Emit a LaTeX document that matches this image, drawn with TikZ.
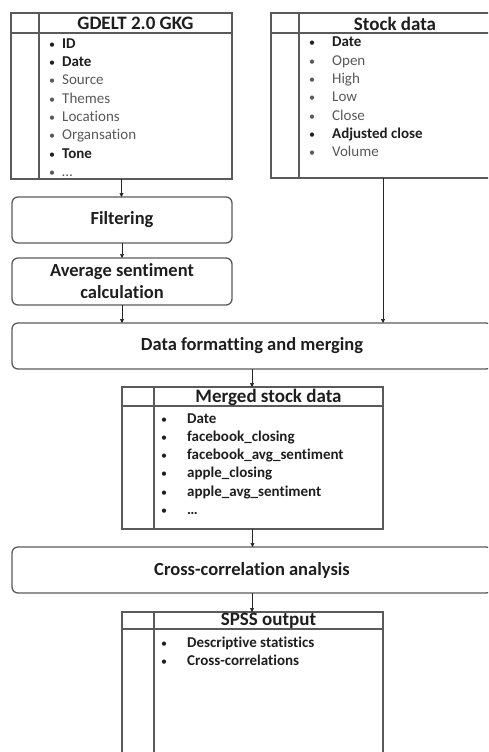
\documentclass[tikz,border=0pt]{standalone}
\usepackage{fontspec}
\setmainfont{Carlito}[Ligatures = {NoCommon, NoContextual}, RawFeature = {-liga;-clig;-calt}]
\usetikzlibrary{arrows.meta,positioning}

\definecolor{boxline}{HTML}{5A5A5A}
\definecolor{softtext}{HTML}{595959}
\definecolor{hardtext}{HTML}{1E1E1E}

\tikzset{
  box/.style = {draw = boxline, line width = 1.3pt, outer sep = 0pt, inner sep = 0pt},
  rule/.style = {draw = boxline, line width = 1.3pt},
  stepbox/.style = {box, rounded corners = 6pt, text = hardtext, font = \fontsize{18.5}{22}\selectfont\bfseries, align = center},
  title/.style = {inner sep = 0pt, text = hardtext, font = \fontsize{19}{22}\selectfont\bfseries},
  item/.style = {anchor = base west, inner sep = 0pt, text = softtext, font = \fontsize{15}{17}\selectfont},
  bitem/.style = {item, text = hardtext, font = \fontsize{15}{17}\selectfont\bfseries},
  flow/.style = {-{Triangle[length = 4pt, width = 4pt]}, line width = 0.6pt, black!85},
}
\newcommand{\itm}[2]{\makebox[#1][l]{\mdseries\fontsize{12}{14}\selectfont\textbullet}#2}

\begin{document}
\begin{tikzpicture}[x = 1pt, y = -1pt]
\useasboundingbox (0, 0) rectangle (488, 752);
\clip (0, 0) rectangle (488, 752);
%\draw[very thin, color = gray](0, 0) grid[step = 50] (488, 752);

% source tables
\node [box, minimum width = 221pt, minimum height = 166pt] (gdelt) at (121.5, 96) {};
\draw [rule] ([yshift = -20pt]gdelt.north west) -- ([yshift = -20pt]gdelt.north east);
\draw [rule] ([xshift = 28pt]gdelt.north west) -- ([xshift = 28pt]gdelt.south west);
\node [title] (gdelt-title) at (135.5, 23.5) {GDELT 2.0 GKG};
\node [bitem] (g-id) at (49, 48.3) {\itm{13pt}{ID}};
\node [bitem] (g-date) at (49, 66.6) {\itm{13pt}{Date}};
\node [item] (g-source) at (49, 84.9) {\itm{13pt}{Source}};
\node [item] (g-themes) at (49, 103.2) {\itm{13pt}{Themes}};
\node [item] (g-loc) at (49, 121.5) {\itm{13pt}{Locations}};
\node [item] (g-org) at (49, 139.8) {\itm{13pt}{Organsation}};
\node [bitem] (g-tone) at (49, 158.1) {\itm{13pt}{Tone}};
\node [item] (g-more) at (49, 176.4) {\itm{13pt}{\ldots}};

\node [box, minimum width = 220pt, minimum height = 165pt] (stock) at (381, 95.5) {};
\draw [rule] ([yshift = -20pt]stock.north west) -- ([yshift = -20pt]stock.north east);
\draw [rule] ([xshift = 28pt]stock.north west) -- ([xshift = 28pt]stock.south west);
\node [title] (stock-title) at (395, 23.5) {Stock data};
\node [bitem] (s-date) at (309, 47) {\itm{23pt}{Date}};
\node [item] (s-open) at (309, 65.3) {\itm{23pt}{Open}};
\node [item] (s-high) at (309, 83.6) {\itm{23pt}{High}};
\node [item] (s-low) at (309, 101.9) {\itm{23pt}{Low}};
\node [item] (s-close) at (309, 120.2) {\itm{23pt}{Close}};
\node [bitem] (s-adj) at (309, 138.5) {\itm{23pt}{Adjusted close}};
\node [item] (s-vol) at (309, 156.8) {\itm{23pt}{Volume}};

% processing steps
\node [stepbox, minimum width = 220pt, minimum height = 46pt] (filter) at (122, 220) {Filtering};
\node [stepbox, minimum width = 220pt, minimum height = 47pt] (avg) at (122, 281.5) {Average sentiment\\calculation};
\node [stepbox, minimum width = 480pt, minimum height = 46pt] (merge) at (252, 346) {Data formatting and merging};

\node [box, minimum width = 261pt, minimum height = 142pt] (merged) at (252.5, 458) {};
\draw [rule] ([yshift = -19pt]merged.north west) -- ([yshift = -19pt]merged.north east);
\draw [rule] ([xshift = 32pt]merged.north west) -- ([xshift = 32pt]merged.south west);
\node [title] (merged-title) at (268.5, 397) {Merged stock data};
\node [bitem] (m-date) at (161, 423) {\itm{26pt}{Date}};
\node [bitem] (m-fbc) at (161, 441.3) {\itm{26pt}{facebook\_closing}};
\node [bitem] (m-fbs) at (161, 459.6) {\itm{26pt}{facebook\_avg\_sentiment}};
\node [bitem] (m-apc) at (161, 477.9) {\itm{26pt}{apple\_closing}};
\node [bitem] (m-aps) at (161, 496.2) {\itm{26pt}{apple\_avg\_sentiment}};
\node [bitem] (m-more) at (161, 514.5) {\itm{26pt}{\ldots}};

\node [stepbox, minimum width = 480pt, minimum height = 46pt] (xcorr) at (252, 570) {Cross-correlation analysis};

\node [box, minimum width = 261pt, minimum height = 176pt] (spss) at (252.5, 700) {};
\draw [rule] ([yshift = -17pt]spss.north west) -- ([yshift = -17pt]spss.north east);
\draw [rule] ([xshift = 32pt]spss.north west) -- ([xshift = 32pt]spss.south west);
\node [title] (spss-title) at (268.5, 621) {SPSS output};
\node [bitem] (p-desc) at (161, 647) {\itm{26pt}{Descriptive statistics}};
\node [bitem] (p-xc) at (161, 665.3) {\itm{26pt}{Cross-correlations}};

% connectors
\draw [flow] (gdelt.south) -- (gdelt.south |- filter.north);
\draw [flow] (filter.south) -- (avg.north);
\draw [flow] (avg.south) -- (avg.south |- merge.north);
\draw [flow] ([xshift = 2pt]stock.south) -- ([xshift = 2pt]stock.south |- merge.north);
\draw [flow] (merge.south) -- (merge.south |- merged.north);
\draw [flow] (merged.south) -- (merged.south |- xcorr.north);
\draw [flow] (xcorr.south) -- (xcorr.south |- spss.north);
\end{tikzpicture}
\end{document}
